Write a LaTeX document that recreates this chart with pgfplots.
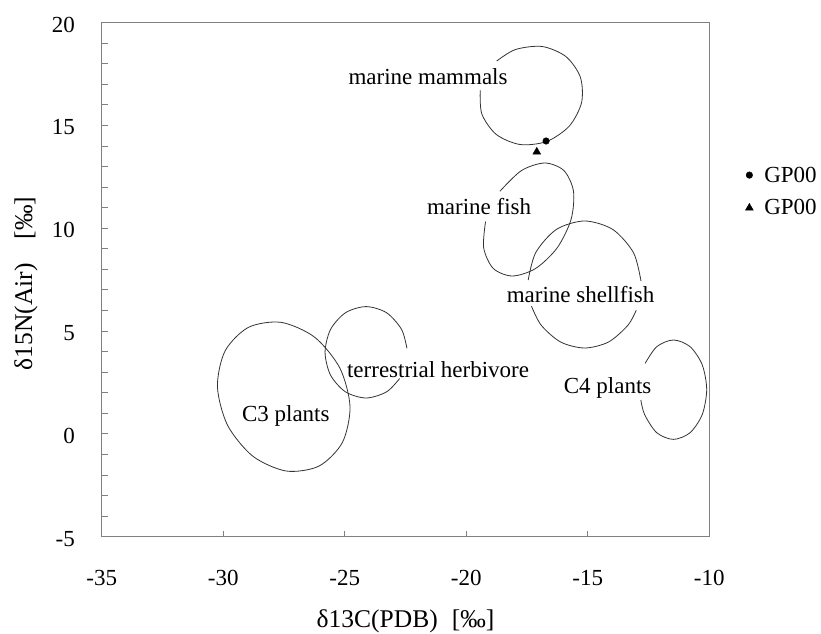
\documentclass[border=0pt]{standalone}
\usepackage{fontspec}
\setmainfont{Liberation Serif}
\usepackage{pgfplots}
\pgfplotsset{compat=1.18}
\newcommand\myfont{\fontsize{23bp}{27bp}\selectfont}
\newcommand\labfont{\fontsize{25.5bp}{30bp}\selectfont}
\begin{document}
\begin{tikzpicture}
\path[use as bounding box] (0,0) rectangle (821bp,634bp);
\begin{axis}[
  at={(101.7bp,97.3bp)}, anchor=south west,
  scale only axis, width=607.6bp, height=514bp,
  xmin=-35, xmax=-10, ymin=-5, ymax=20,
  xtick={-35,-30,-25,-20,-15,-10},
  xticklabels={-35,-30,-25,-20,-15,-10},
  ytick={-5,0,5,10,15,20},
  yticklabels={-5,0,5,10,15,20},
  minor y tick num=4,
  tick align=inside, xtick pos=bottom, ytick pos=left,
  major tick length=6bp, minor tick length=6bp,
  tick style={draw=gray, line width=1bp},
  axis line style={draw=gray, line width=1.2bp},
  xticklabel style={anchor=base, yshift=-48.3bp, inner sep=0pt, font=\myfont},
  yticklabel style={anchor=base east, yshift=-9.5bp, xshift=-26.7bp, inner sep=0pt, font=\myfont},
  xlabel={δ13C(PDB)\hspace{14bp}[‰]},
  ylabel={δ15N(Air)\hspace{24bp}[‰]},
  xlabel style={at={(axis description cs:0.5,-0.1757)}, anchor=base, inner sep=0pt, font=\labfont},
  ylabel style={at={(axis description cs:-0.1147,0.4926)}, anchor=base, inner sep=0pt, font=\labfont},
  legend style={at={(axis description cs:1.0592,0.6716)}, anchor=west, draw=none, fill=none,
    inner xsep=0pt, inner ysep=0pt, nodes={inner sep=0pt}, column sep=11bp, row sep=16bp, font=\myfont},
  legend cell align=left,
  legend image code/.code={\draw[#1, only marks] plot coordinates {(0bp,0bp)};},
  ell/.style={black!80, line width=0.8bp, smooth, no markers, forget plot},
]
% marine mammals
\addplot[ell] coordinates {(-19.426,16.714) (-19.359,15.560) (-18.764,14.563) (-17.785,14.075) (-16.686,14.225) (-15.759,14.974) (-15.255,16.121) (-15.307,17.358) (-15.902,18.355) (-16.881,18.843) (-17.980,18.693) (-18.749,18.133)};
% marine fish
\addplot[ell] coordinates {(-19.206,10.328) (-19.284,9.052) (-18.889,8.047) (-18.104,7.680) (-17.141,8.049) (-16.256,9.055) (-15.688,10.430) (-15.588,11.804) (-15.983,12.809) (-16.768,13.176) (-17.731,12.807) (-18.616,11.800)};
% marine shellfish
\addplot[ell] coordinates {(-12.810,7.429) (-13.119,8.812) (-13.970,9.942) (-15.132,10.356) (-16.295,9.942) (-17.145,8.812) (-17.451,7.482)};
\addplot[ell] coordinates {(-17.317,6.211) (-16.913,5.281) (-16.115,4.468) (-15.132,4.178) (-14.149,4.468) (-13.351,5.281) (-13.008,6.010)};
% C4 plants
\addplot[ell] coordinates {(-12.817,1.647) (-12.663,0.942) (-12.162,0.057) (-11.477,-0.267) (-10.792,0.057) (-10.291,0.942) (-10.107,2.150) (-10.291,3.359) (-10.792,4.243) (-11.477,4.567) (-12.162,4.243) (-12.639,3.431)};
% terrestrial herbivore
\addplot[ell] coordinates {(-22.442,4.163) (-22.662,5.081) (-23.280,5.894) (-24.123,6.192) (-24.967,5.894) (-25.584,5.081) (-25.810,3.969) (-25.584,2.858) (-24.967,2.044) (-24.123,1.746) (-23.280,2.044) (-22.741,2.693)};
% C3 plants (closed)
\addplot[ell, smooth cycle] coordinates {(-28.964,5.181) (-29.924,4.033) (-30.237,2.290) (-29.820,0.418) (-28.784,-1.082) (-27.406,-1.806) (-26.056,-1.563) (-25.096,-0.415) (-24.783,1.328) (-25.200,3.200) (-26.236,4.700) (-27.614,5.424)};
% labels
\node[font=\myfont, anchor=base, inner sep=0pt] at (axis cs:-21.572,16.970) {marine mammals};
\node[font=\myfont, anchor=base, inner sep=0pt] at (axis cs:-19.473,10.647) {marine fish};
\node[font=\myfont, anchor=base, inner sep=0pt] at (axis cs:-15.296,6.367) {marine shellfish};
\node[font=\myfont, anchor=base, inner sep=0pt] at (axis cs:-21.160,2.767) {terrestrial herbivore};
\node[font=\myfont, anchor=base, inner sep=0pt] at (axis cs:-27.424,0.603) {C3 plants};
\node[font=\myfont, anchor=base, inner sep=0pt] at (axis cs:-14.185,1.989) {C4 plants};
% data points
\addplot[only marks, mark=*, mark size=3.3bp, black] coordinates {(-16.716,14.246)};
\addlegendentry{GP00}
\addplot[only marks, mark=triangle*, mark size=4.5bp, black] coordinates {(-17.099,13.72)};
\addlegendentry{GP00}
\end{axis}
\end{tikzpicture}
\end{document}
